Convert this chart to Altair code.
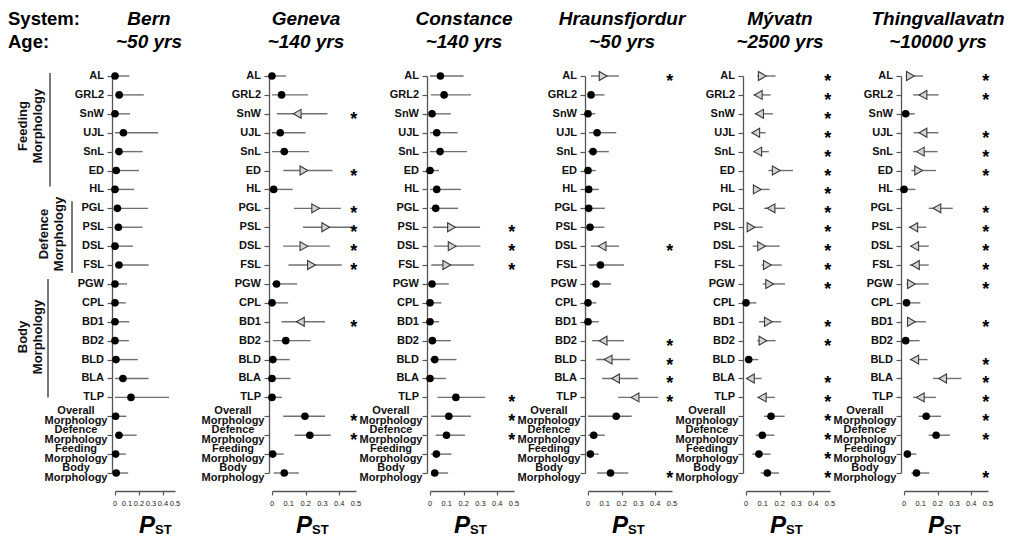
import altair as alt
import pandas as pd

traits = ["AL", "GRL2", "SnW", "UJL", "SnL", "ED", "HL", "PGL", "PSL", "DSL", "FSL",
          "PGW", "CPL", "BD1", "BD2", "BLD", "BLA", "TLP",
          "Overall Morphology", "Defence Morphology", "Feeding Morphology", "Body Morphology"]
multi_labels = {"Overall Morphology": "Overall|Morphology",
                "Defence Morphology": "Defence|Morphology",
                "Feeding Morphology": "Feeding|Morphology",
                "Body Morphology": "Body|Morphology"}

systems = ["Bern", "Geneva", "Constance", "Hraunsfjordur", "Mývatn", "Thingvallavatn"]
ages = ["~50 yrs", "~140 yrs", "~140 yrs", "~50 yrs", "~2500 yrs", "~10000 yrs"]

# P_ST estimates, confidence limits, marker (o = no divergence, < / > = triangle direction), significance
bern_pst = [0.0, 0.035, 0.0, 0.07, 0.033, 0.01, 0.0, 0.02, 0.028, 0.0, 0.033, 0.0, 0.0, 0.0, 0.0, 0.008, 0.066, 0.133, 0.005, 0.033, 0.005, 0.01]
bern_lo = [0.0] * 22
bern_hi = [0.12, 0.24, 0.125, 0.36, 0.23, 0.2, 0.16, 0.275, 0.23, 0.15, 0.28, 0.1, 0.09, 0.12, 0.115, 0.19, 0.28, 0.45, 0.095, 0.18, 0.09, 0.11]
bern_mk = ["o"] * 22
bern_sig = [0] * 22

gen_pst = [0.0, 0.057, 0.15, 0.049, 0.073, 0.19, 0.01, 0.26, 0.32, 0.19, 0.235, 0.027, 0.0, 0.169, 0.082, 0.005, 0.0, 0.0, 0.196, 0.225, 0.004, 0.073]
gen_lo = [0, 0, 0.029, 0, 0, 0.067, 0, 0.13, 0.184, 0.067, 0.098, 0, 0, 0.057, 0.005, 0, 0, 0, 0.067, 0.135, 0, 0.01]
gen_hi = [0.084, 0.215, 0.33, 0.2, 0.22, 0.36, 0.123, 0.41, 0.49, 0.345, 0.415, 0.15, 0.096, 0.316, 0.23, 0.105, 0.11, 0.06, 0.316, 0.35, 0.07, 0.16]
gen_mk = ["o", "o", "<", "o", "o", ">", "o", ">", ">", ">", ">", "o", "o", "<", "o", "o", "o", "o", "o", "o", "o", "o"]
gen_sig = [0, 0, 1, 0, 0, 1, 0, 1, 1, 1, 1, 0, 0, 1, 0, 0, 0, 0, 1, 1, 0, 0]

con_pst = [0.062, 0.084, 0.012, 0.04, 0.06, 0.0, 0.04, 0.034, 0.128, 0.132, 0.1, 0.012, 0.0, 0.0, 0.014, 0.028, 0.0, 0.154, 0.112, 0.098, 0.038, 0.028]
con_lo = [0, 0.005, 0, 0, 0, 0, 0, 0, 0.018, 0.024, 0.008, 0, 0, 0, 0, 0, 0, 0.044, 0.006, 0.034, 0.006, 0.006]
con_hi = [0.2, 0.244, 0.124, 0.164, 0.22, 0.054, 0.184, 0.168, 0.298, 0.3, 0.262, 0.112, 0.068, 0.054, 0.124, 0.158, 0.094, 0.328, 0.244, 0.208, 0.128, 0.108]
con_mk = ["o", "o", "o", "o", "o", "o", "o", "o", ">", ">", ">", "o", "o", "o", "o", "o", "o", "o", "o", "o", "o", "o"]
con_sig = [0, 0, 0, 0, 0, 0, 0, 0, 1, 1, 1, 0, 0, 0, 0, 0, 0, 1, 1, 1, 0, 0]

hra_pst = [0.09, 0.018, 0.0, 0.054, 0.03, 0.0, 0.004, 0.004, 0.012, 0.084, 0.074, 0.048, 0.0, 0.0, 0.09, 0.12, 0.164, 0.28, 0.168, 0.034, 0.014, 0.134]
hra_lo = [0.018, 0, 0, 0.006, 0, 0, 0, 0, 0, 0.018, 0.006, 0.012, 0, 0, 0.024, 0.05, 0.084, 0.18, 0, 0, 0, 0.054]
hra_hi = [0.184, 0.098, 0.044, 0.168, 0.124, 0.046, 0.064, 0.1, 0.098, 0.184, 0.214, 0.138, 0.05, 0.064, 0.214, 0.25, 0.298, 0.418, 0.26, 0.1, 0.064, 0.24]
hra_mk = [">", "o", "o", "o", "o", "o", "o", "o", "o", "<", "o", "o", "o", "o", "<", "<", "<", "<", "o", "o", "o", "o"]
hra_sig = [1, 0, 0, 0, 0, 0, 0, 0, 0, 1, 0, 0, 0, 0, 1, 1, 1, 1, 0, 0, 0, 1]

myv_pst = [0.097, 0.073, 0.081, 0.058, 0.07, 0.18, 0.067, 0.149, 0.03, 0.093, 0.127, 0.141, 0.0, 0.133, 0.101, 0.016, 0.026, 0.097, 0.149, 0.097, 0.077, 0.127]
myv_lo = [0.067, 0.046, 0.052, 0.034, 0.044, 0.133, 0.046, 0.107, 0.012, 0.04, 0.093, 0.1, 0, 0.077, 0.067, 0, 0.006, 0.067, 0.107, 0.058, 0.038, 0.087]
myv_hi = [0.176, 0.146, 0.16, 0.117, 0.136, 0.28, 0.141, 0.232, 0.1, 0.2, 0.212, 0.232, 0.062, 0.21, 0.176, 0.073, 0.093, 0.172, 0.23, 0.169, 0.146, 0.196]
myv_mk = [">", "<", "<", "<", "<", ">", ">", "<", ">", ">", ">", ">", "o", ">", ">", "o", "<", "<", "o", "o", "o", "o"]
myv_sig = [1, 1, 1, 1, 1, 1, 1, 1, 1, 1, 1, 1, 0, 1, 1, 0, 1, 1, 1, 1, 1, 1]

thi_pst = [0.038, 0.113, 0.01, 0.113, 0.097, 0.087, 0.0, 0.196, 0.058, 0.064, 0.068, 0.044, 0.015, 0.044, 0.01, 0.064, 0.23, 0.097, 0.132, 0.191, 0.02, 0.074]
thi_lo = [0.009, 0.054, 0, 0.058, 0.054, 0.044, 0, 0.147, 0.028, 0.038, 0.034, 0.015, 0, 0.02, 0, 0.034, 0.172, 0.054, 0.087, 0.147, 0.005, 0.044]
thi_hi = [0.113, 0.205, 0.064, 0.205, 0.2, 0.19, 0.068, 0.29, 0.132, 0.147, 0.147, 0.147, 0.097, 0.132, 0.093, 0.14, 0.342, 0.19, 0.22, 0.274, 0.074, 0.151]
thi_mk = [">", "<", "o", "<", "<", ">", "o", "<", "<", "<", "<", ">", "o", ">", "o", "<", "<", "<", "o", "o", "o", "o"]
thi_sig = [1, 1, 0, 1, 1, 1, 0, 1, 1, 1, 1, 1, 0, 1, 0, 1, 1, 1, 1, 1, 0, 1]

x_ticks = [0, 0.1, 0.2, 0.3, 0.4, 0.5]
x_tick_labels = ["0", "0.1", "0.2", "0.3", "0.4", "0.5"]
star_x = 0.487

FONT = "Liberation Sans"
H = 397
AXC = "#555555"


def panel(system, age, pst, lo, hi, mk, sig, width, xrange=None, first=False):
    df = pd.DataFrame({"trait": traits, "pst": pst, "lo": lo, "hi": hi, "mk": mk, "sig": sig,
                       "lbl": [multi_labels.get(t, t) for t in traits],
                       "multi": [t in multi_labels for t in traits]})
    sc_kw = dict(domain=[0, 0.5], nice=False, zero=False)
    if xrange:
        sc_kw["range"] = [0, xrange]
    xs = alt.Scale(**sc_kw)
    ys = alt.Scale(type="point", padding=0, domain=traits)
    xax = alt.Axis(values=x_ticks, labels=False, title=None, grid=False, offset=18, tickSize=4,
                   domainColor=AXC, tickColor=AXC, domainWidth=1.3, tickWidth=1.2)
    yax = alt.Axis(labels=False, title=None, grid=False, offset=3, tickSize=5,
                   domainColor=AXC, tickColor=AXC, domainWidth=1.3, tickWidth=1.2)
    base = alt.Chart(df)
    err = base.mark_rule(color="#707070", strokeWidth=1.4).encode(
        x=alt.X("lo:Q", scale=xs, axis=xax), x2="hi:Q",
        y=alt.Y("trait:N", scale=ys, axis=yax, sort=traits))
    dots = base.transform_filter("datum.mk == 'o'").mark_point(
        shape="circle", filled=True, color="black", size=58, opacity=1).encode(
        x="pst:Q", y=alt.Y("trait:N", sort=traits))
    tri = base.transform_filter("datum.mk != 'o'").mark_point(
        filled=True, fill="#d4d4d4", stroke="#3a3a3a", strokeWidth=1.1, size=80, opacity=1).encode(
        x="pst:Q", y=alt.Y("trait:N", sort=traits),
        shape=alt.Shape("mk:N", scale=alt.Scale(domain=["<", ">"], range=["triangle-left", "triangle-right"]), legend=None))
    stars = base.transform_filter("datum.sig == 1").mark_text(
        text="*", fontSize=18, fontWeight="bold", font=FONT, color="black", dy=6).encode(
        x=alt.datum(star_x), y=alt.Y("trait:N", sort=traits))
    lab1 = base.transform_filter("!datum.multi").mark_text(
        align="right", baseline="middle", font=FONT, fontSize=11, fontWeight="bold", color="#111").encode(
        x=alt.value(-11), y=alt.Y("trait:N", sort=traits), text="lbl:N")
    lab2 = base.transform_filter("datum.multi").mark_text(
        align="center", baseline="middle", font=FONT, fontSize=11, fontWeight="bold", color="#111",
        lineBreak="|", lineHeight=9.5, dy=-5).encode(
        x=alt.value(-39), y=alt.Y("trait:N", sort=traits), text="lbl:N")
    tick_df = pd.DataFrame({"v": x_ticks, "t": x_tick_labels})
    xlab = alt.Chart(tick_df).mark_text(font=FONT, fontSize=7.5, color="#222", baseline="middle").encode(
        x=alt.X("v:Q", scale=xs), y=alt.value(H + 31), text="t:N")
    hdr = pd.DataFrame({"s": [system], "a": [age]})
    h1 = alt.Chart(hdr).mark_text(font=FONT, fontSize=19, fontWeight="bold", fontStyle="italic",
                                  align="center").encode(x=alt.value(34), y=alt.value(-57), text="s:N")
    h2 = alt.Chart(hdr).mark_text(font=FONT, fontSize=19, fontWeight="bold", fontStyle="italic",
                                  align="center").encode(x=alt.value(34), y=alt.value(-34), text="a:N")
    tp = alt.Chart(hdr).mark_text(text="P", font=FONT, fontSize=24, fontWeight="bold", fontStyle="italic",
                                  align="right").encode(x=alt.value(40), y=alt.value(H + 53))
    ts = alt.Chart(hdr).mark_text(text="ST", font=FONT, fontSize=13, fontWeight="bold",
                                  align="left").encode(x=alt.value(40), y=alt.value(H + 57))
    layers = [err, dots, tri, stars, lab1, lab2, xlab, h1, h2, tp, ts]
    if first:
        side = pd.DataFrame({"t": ["System:", "Age:"]})
        layers.append(alt.Chart(side).transform_filter("datum.t == 'System:'").mark_text(
            font=FONT, fontSize=18.5, fontWeight="bold", align="left").encode(
            x=alt.value(-107), y=alt.value(-57), text="t:N"))
        layers.append(alt.Chart(side).transform_filter("datum.t == 'Age:'").mark_text(
            font=FONT, fontSize=18.5, fontWeight="bold", align="left").encode(
            x=alt.value(-107), y=alt.value(-34), text="t:N"))
        grp = pd.DataFrame({"g": ["Feeding", "Defence", "Body"],
                            "start": ["AL", "PGL", "PGW"], "end": ["HL", "FSL", "TLP"]})
        gb = alt.Chart(grp)
        layers.append(gb.transform_filter("datum.g == 'Feeding'").mark_rule(
            color="#222", strokeWidth=1.2, yOffset=-3, y2Offset=-3).encode(
            x=alt.value(-65), y=alt.Y("start:N", sort=traits), y2="end:N"))
        layers.append(gb.transform_filter("datum.g == 'Defence'").mark_rule(
            color="#222", strokeWidth=1.2, yOffset=-7, y2Offset=8).encode(
            x=alt.value(-43), y=alt.Y("start:N", sort=traits), y2="end:N"))
        layers.append(gb.transform_filter("datum.g == 'Body'").mark_rule(
            color="#222", strokeWidth=1.2, yOffset=-5, y2Offset=0).encode(
            x=alt.value(-67), y=alt.Y("start:N", sort=traits), y2="end:N"))
        gt = pd.DataFrame({"t": ["Feeding|Morphology", "Defence|Morphology", "Body|Morphology"],
                           "xx": [-92.5, -71, -92.5], "yy": [50, 158, 261]})
        for i in range(3):
            layers.append(alt.Chart(gt.iloc[[i]]).mark_text(
                font=FONT, fontSize=13, fontWeight="bold", angle=270, align="center", baseline="middle",
                lineBreak="|", lineHeight=15, color="#111").encode(
                x=alt.value(float(gt.xx[i])), y=alt.value(float(gt.yy[i])), text="t:N"))
    return alt.layer(*layers).properties(width=width, height=H)


panels = [
    panel(systems[0], ages[0], bern_pst, bern_lo, bern_hi, bern_mk, bern_sig, 83, xrange=60, first=True),
    panel(systems[1], ages[1], gen_pst, gen_lo, gen_hi, gen_mk, gen_sig, 84),
    panel(systems[2], ages[2], con_pst, con_lo, con_hi, con_mk, con_sig, 84),
    panel(systems[3], ages[3], hra_pst, hra_lo, hra_hi, hra_mk, hra_sig, 84),
    panel(systems[4], ages[4], myv_pst, myv_lo, myv_hi, myv_mk, myv_sig, 84),
    panel(systems[5], ages[5], thi_pst, thi_lo, thi_hi, thi_mk, thi_sig, 84),
]

chart = alt.hconcat(*panels, spacing=74, bounds="flush").properties(
    padding={"left": 0, "top": 2, "right": 0, "bottom": 0}).configure_view(
    stroke=None).resolve_scale(x="independent", y="independent")

chart.save("out.html", embed_options={"renderer": "svg", "actions": False})
